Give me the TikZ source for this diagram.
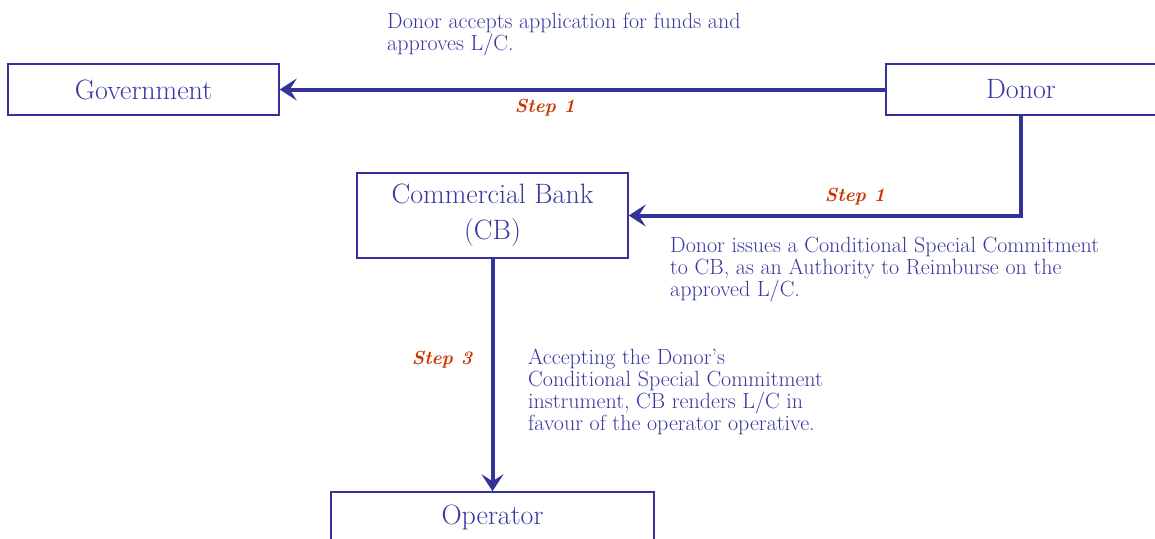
\documentclass[tikz,border=0pt]{standalone}
\usetikzlibrary{arrows.meta}

\definecolor{flowblue}{RGB}{51,51,153}
\definecolor{textblue}{RGB}{56,56,160}
\definecolor{steporange}{RGB}{204,51,0}

\tikzset{
  party/.style={draw=flowblue,line width=1.5pt,text=textblue,
    font=\fontsize{28}{30}\selectfont,align=center},
  flow/.style={draw=flowblue,line width=4pt,
    -{Stealth[length=17pt,width=22pt,inset=7pt]}},
  steplabel/.style={text=steporange,
    font=\fontsize{19}{21}\selectfont\bfseries\itshape},
  note/.style={text=textblue,anchor=north west,inner sep=0pt,align=left,
    font=\fontsize{22}{21.8}\selectfont}
}

\begin{document}
\begin{tikzpicture}[x=1pt,y=-1pt]
    \clip (0,0) rectangle (1155,538);
    % parties
    \node[party,minimum width=271pt,minimum height=51pt] (gov) at (143.5,89.5) {Government};
    \node[party,minimum width=270pt,minimum height=51pt] (donor) at (1021,89.5) {Donor};
    \node[party,minimum width=271pt,minimum height=85pt] (cb) at (492.5,215.5) {Commercial Bank\\[6pt](CB)};
    \node[party,minimum width=323pt,minimum height=51pt] (op) at (492.5,517.5) {Operator};

    % flows
    \draw[flow] (donor.west) -- (gov.east);
    \draw[flow] (donor.south) |- (cb.east);
    \draw[flow] (cb.south) -- (op.north);

    % step labels
    \node[steplabel] (s1a) at (545,108) {Step 1};
    \node[steplabel] (s1b) at (855,197) {Step 1};
    \node[steplabel] (s3) at (442,360) {Step 3};

    % notes
    \node[note] (n1) at (387,13) {Donor accepts application for funds and\\approves L/C.};
    \node[note] (n2) at (670,237) {Donor issues a Conditional Special Commitment\\to CB, as an Authority to Reimburse on the\\approved L/C.};
    \node[note] (n3) at (528,349) {Accepting the Donor's\\Conditional Special Commitment\\instrument, CB renders L/C in\\favour of the operator operative.};
\end{tikzpicture}
\end{document}
